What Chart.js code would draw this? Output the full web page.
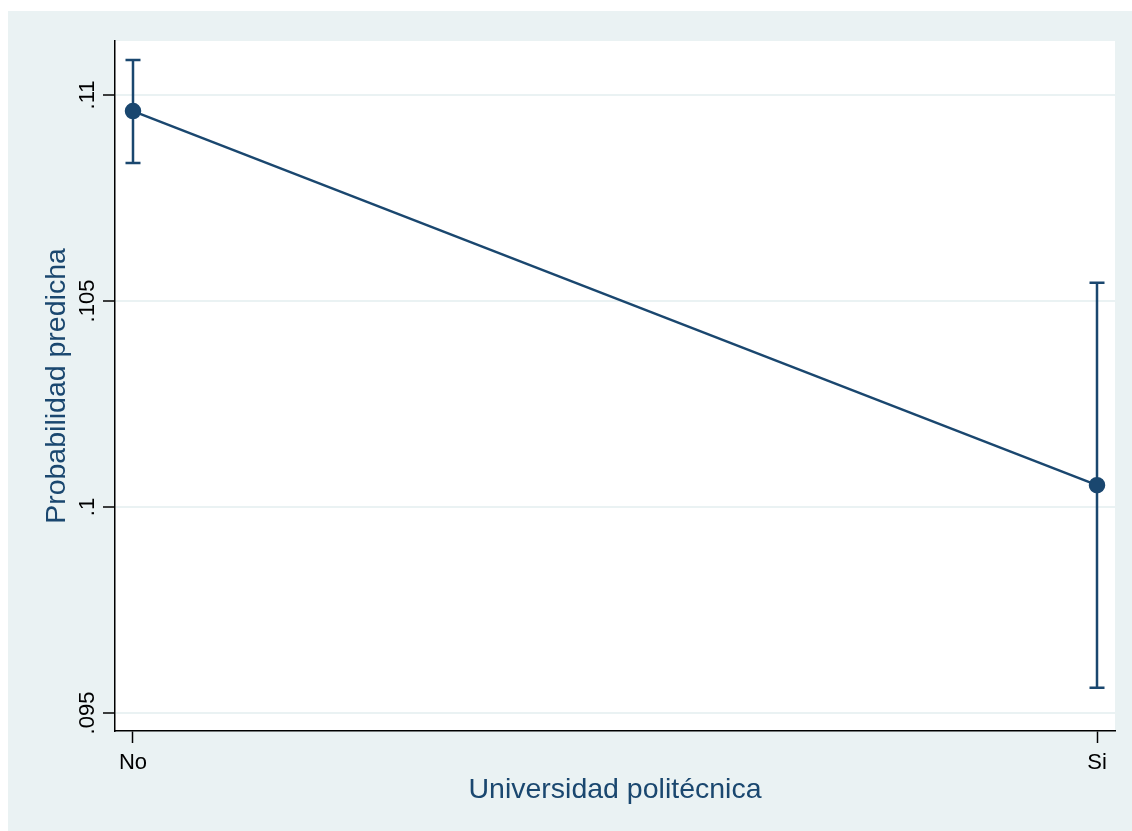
<!DOCTYPE html>
<html lang="es">
<head>
    <meta charset="UTF-8">
    <script src="https://cdn.jsdelivr.net/npm/chart.js"></script>
    <title>Probabilidad predicha</title>
    <style>
        body {
            margin: 0;
            background: #ffffff;
        }
        canvas {
            display: block;
        }
    </style>
</head>
<body>

<canvas id="marginsChart" width="1132" height="831"></canvas>

<script>
    // values
    const categories = ['No', 'Si'];
    const xPositions = [0, 1];
    const predicted = [0.10961, 0.10053];
    const ciLower = [0.10835, 0.09561];
    const ciUpper = [0.11085, 0.10544];
    const yTicks = [0.095, 0.1, 0.105, 0.11];
    const yTickLabels = ['.095', '.1', '.105', '.11'];

    const navy = '#1a476f';
    const panelColor = '#eaf2f3';
    const fontFamily = 'Arial, "Liberation Sans", sans-serif';

    // outer light panel behind the plot region
    const panelPlugin = {
        id: 'panel',
        beforeDraw(chart) {
            const ctx = chart.ctx;
            const area = chart.chartArea;
            ctx.save();
            ctx.fillStyle = panelColor;
            ctx.fillRect(8, 11, chart.width - 8, chart.height - 11);
            ctx.fillStyle = '#ffffff';
            ctx.fillRect(area.left, area.top, area.right - area.left, area.bottom - area.top);
            ctx.restore();
        }
    };

    // confidence intervals with caps
    const errorBarPlugin = {
        id: 'errorBars',
        beforeDatasetsDraw(chart) {
            const ctx = chart.ctx;
            const xs = chart.scales.x;
            const ys = chart.scales.y;
            ctx.save();
            ctx.strokeStyle = navy;
            ctx.lineWidth = 2.5;
            xPositions.forEach((xv, i) => {
                const px = xs.getPixelForValue(xv);
                const top = ys.getPixelForValue(ciUpper[i]);
                const bot = ys.getPixelForValue(ciLower[i]);
                ctx.beginPath();
                ctx.moveTo(px, top);
                ctx.lineTo(px, bot);
                ctx.moveTo(px - 7.5, top);
                ctx.lineTo(px + 7.5, top);
                ctx.moveTo(px - 7.5, bot);
                ctx.lineTo(px + 7.5, bot);
                ctx.stroke();
            });
            ctx.restore();
        }
    };

    // vertical y tick labels, as Stata draws them
    const yLabelPlugin = {
        id: 'yLabels',
        afterDraw(chart) {
            const ctx = chart.ctx;
            const ys = chart.scales.y;
            ctx.save();
            ctx.fillStyle = '#000000';
            ctx.font = '22px ' + fontFamily;
            ctx.textAlign = 'center';
            ctx.textBaseline = 'middle';
            yTicks.forEach((v, i) => {
                ctx.save();
                ctx.translate(88, ys.getPixelForValue(v));
                ctx.rotate(-Math.PI / 2);
                ctx.fillText(yTickLabels[i], 0, 0);
                ctx.restore();
            });
            ctx.restore();
        }
    };

    const ctx = document.getElementById('marginsChart').getContext('2d');
    const marginsChart = new Chart(ctx, {
        type: 'line',
        data: {
            datasets: [{
                data: xPositions.map((x, i) => ({ x: x, y: predicted[i] })),
                borderColor: navy,
                backgroundColor: navy,
                borderWidth: 2.5,
                pointRadius: 7.5,
                pointBorderWidth: 1.5,
                pointBackgroundColor: navy,
                pointBorderColor: navy,
                tension: 0,
                fill: false
            }]
        },
        options: {
            responsive: false,
            animation: false,
            layout: {
                padding: { top: 41, right: 17, left: 0, bottom: 0 }
            },
            plugins: {
                legend: { display: false },
                tooltip: { enabled: false }
            },
            scales: {
                x: {
                    type: 'linear',
                    min: -0.01867,
                    max: 1.01867,
                    afterBuildTicks: scale => {
                        scale.ticks = xPositions.map(v => ({ value: v }));
                    },
                    afterFit: scale => { scale.height = 100; },
                    ticks: {
                        autoSkip: false,
                        maxRotation: 0,
                        padding: 7,
                        color: '#000000',
                        font: { family: fontFamily, size: 22 },
                        callback: (value, index) => categories[index]
                    },
                    grid: {
                        drawOnChartArea: false,
                        color: 'rgba(0,0,0,0)',
                        tickColor: '#000000',
                        tickLength: 12,
                        tickWidth: 1.5
                    },
                    border: { color: '#000000', width: 1.5 },
                    title: {
                        display: true,
                        text: 'Universidad politécnica',
                        color: navy,
                        font: { family: fontFamily, size: 28.5 },
                        padding: { top: 0, bottom: 24 }
                    }
                },
                y: {
                    min: 0.094563,
                    max: 0.11131,
                    afterBuildTicks: scale => {
                        scale.ticks = yTicks.map(v => ({ value: v }));
                    },
                    afterFit: scale => { scale.width = 115; },
                    ticks: { display: false },
                    grid: {
                        color: panelColor,
                        lineWidth: 2,
                        tickColor: '#000000',
                        tickLength: 12,
                        tickWidth: 1.5
                    },
                    border: { color: '#000000', width: 1.5 },
                    title: {
                        display: true,
                        text: 'Probabilidad predicha',
                        color: navy,
                        font: { family: fontFamily, size: 28.5 },
                        padding: { top: 40, bottom: 0 }
                    }
                }
            }
        },
        plugins: [panelPlugin, errorBarPlugin, yLabelPlugin]
    });
</script>

</body>
</html>
